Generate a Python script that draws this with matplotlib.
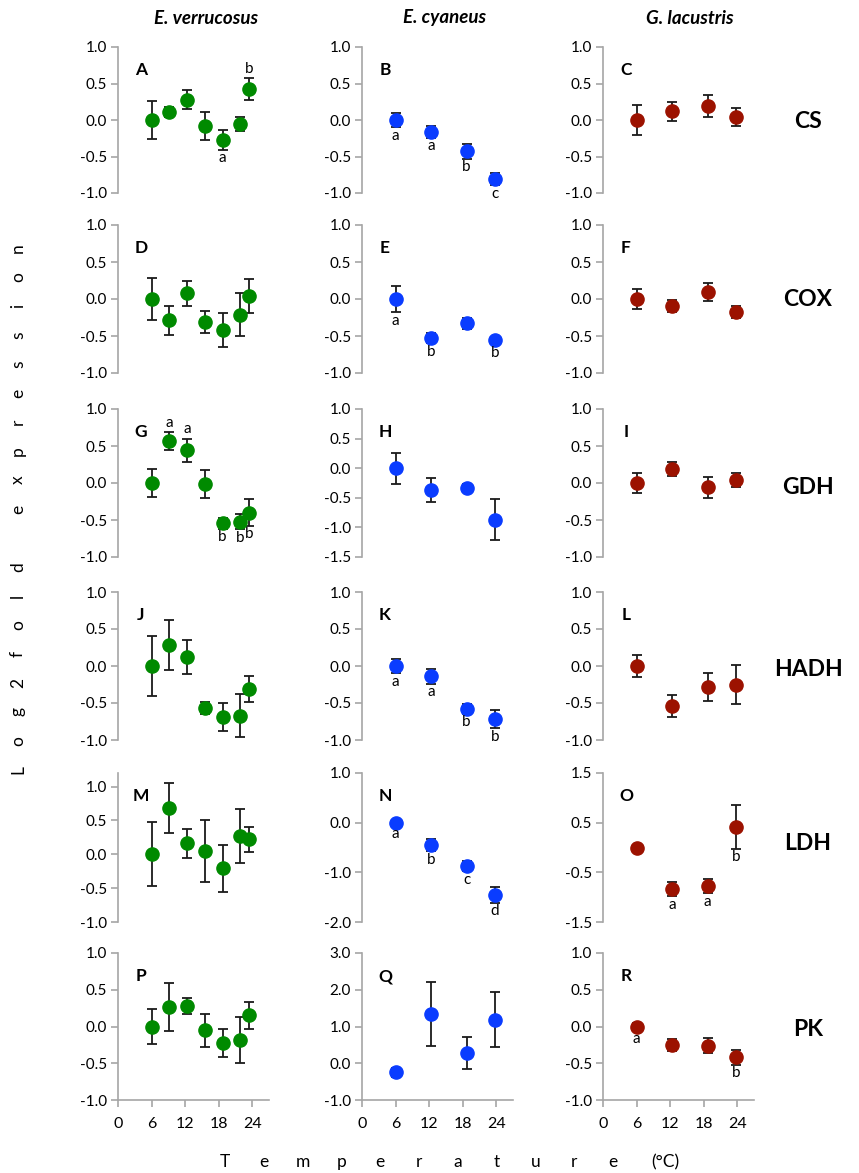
import matplotlib
matplotlib.use('Agg')
import matplotlib.pyplot as plt

plt.rcParams['font.family'] = ['Lato', 'DejaVu Sans']
plt.rcParams['axes.unicode_minus'] = False

# acclimation temperatures (deg C)
temp_ev = [6, 9.2, 12.4, 15.5, 18.7, 21.8, 23.5]
temp_ec = [6, 12.4, 18.7, 23.8]
temp_gl = [6, 12.4, 18.7, 23.8]

species = ['E. verrucosus', 'E. cyaneus', 'G. lacustris']
genes = ['CS', 'COX', 'GDH', 'HADH', 'LDH', 'PK']
x_ticks = [0, 6, 12, 18, 24]

# CS
cs_ev = [0.0, 0.105, 0.28, -0.08, -0.27, -0.06, 0.42]
cs_ev_err = [0.26, 0.07, 0.125, 0.195, 0.135, 0.095, 0.15]
cs_ev_sig = ['', '', '', '', 'a', '', 'b']
cs_ec = [0.0, -0.16, -0.43, -0.81]
cs_ec_err = [0.1, 0.08, 0.1, 0.085]
cs_ec_sig = ['a', 'a', 'b', 'c']
cs_gl = [0.0, 0.12, 0.19, 0.04]
cs_gl_err = [0.21, 0.13, 0.15, 0.12]

# COX
cox_ev = [0.0, -0.29, 0.08, -0.31, -0.42, -0.21, 0.04]
cox_ev_err = [0.28, 0.2, 0.17, 0.15, 0.225, 0.29, 0.23]
cox_ec = [0.0, -0.53, -0.33, -0.56]
cox_ec_err = [0.18, 0.07, 0.07, 0.05]
cox_ec_sig = ['a', 'b', '', 'b']
cox_gl = [0.0, -0.1, 0.09, -0.18]
cox_gl_err = [0.13, 0.08, 0.12, 0.08]

# GDH
gdh_ev = [0.0, 0.565, 0.44, -0.01, -0.545, -0.525, -0.40]
gdh_ev_err = [0.185, 0.12, 0.16, 0.19, 0.07, 0.1, 0.18]
gdh_ev_sig = ['', 'a', 'a', '', 'b', 'b', 'b']
gdh_ec = [0.0, -0.37, -0.33, -0.87]
gdh_ec_err = [0.26, 0.2, 0.07, 0.35]
gdh_gl = [0.0, 0.19, -0.06, 0.04]
gdh_gl_err = [0.13, 0.1, 0.14, 0.09]

# HADH
hadh_ev = [0.0, 0.28, 0.12, -0.57, -0.69, -0.67, -0.31]
hadh_ev_err = [0.4, 0.34, 0.225, 0.085, 0.195, 0.29, 0.18]
hadh_ec = [0.0, -0.14, -0.58, -0.72]
hadh_ec_err = [0.1, 0.1, 0.07, 0.12]
hadh_ec_sig = ['a', 'a', 'b', 'b']
hadh_gl = [0.0, -0.54, -0.28, -0.25]
hadh_gl_err = [0.15, 0.15, 0.19, 0.26]

# LDH
ldh_ev = [0.0, 0.685, 0.16, 0.045, -0.21, 0.27, 0.22]
ldh_ev_err = [0.47, 0.37, 0.21, 0.46, 0.34, 0.40, 0.18]
ldh_ec = [0.0, -0.45, -0.88, -1.45]
ldh_ec_err = [0.05, 0.125, 0.1, 0.16]
ldh_ec_sig = ['a', 'b', 'c', 'd']
ldh_gl = [0.0, -0.84, -0.78, 0.41]
ldh_gl_err = [0.05, 0.145, 0.14, 0.44]
ldh_gl_sig = ['', 'a', 'a', 'b']

# PK
pk_ev = [0.0, 0.265, 0.28, -0.05, -0.23, -0.18, 0.15]
pk_ev_err = [0.235, 0.33, 0.11, 0.225, 0.19, 0.31, 0.19]
pk_ec = [-0.245, 1.34, 0.28, 1.19]
pk_ec_err = [0.12, 0.87, 0.43, 0.745]
pk_gl = [0.0, -0.25, -0.26, -0.42]
pk_gl_err = [0.05, 0.08, 0.1, 0.1]
pk_gl_sig = ['a', '', '', 'b']

W, H = 859, 1173
GREY = '#a6a6a6'
colors = ['#008a00', '#0a3cff', '#9c1200']

# pixel layout
col_left = [118, 362, 603]
col_w = 151
row_top = [47, 225, 409, 592, 773, 953]
row_bot = [193, 373, 557, 740, 922, 1100]
title_x = [206, 445, 690]
gene_y = [121, 300, 487, 670, 843, 1030]

# (letter, row, col, x, y, err, sig, ylim, yticks)
panels = [
    ('A', 0, 0, temp_ev, cs_ev, cs_ev_err, cs_ev_sig, (-1, 1), [-1, -0.5, 0, 0.5, 1]),
    ('B', 0, 1, temp_ec, cs_ec, cs_ec_err, cs_ec_sig, (-1, 1), [-1, -0.5, 0, 0.5, 1]),
    ('C', 0, 2, temp_gl, cs_gl, cs_gl_err, None, (-1, 1), [-1, -0.5, 0, 0.5, 1]),
    ('D', 1, 0, temp_ev, cox_ev, cox_ev_err, None, (-1, 1), [-1, -0.5, 0, 0.5, 1]),
    ('E', 1, 1, temp_ec, cox_ec, cox_ec_err, cox_ec_sig, (-1, 1), [-1, -0.5, 0, 0.5, 1]),
    ('F', 1, 2, temp_gl, cox_gl, cox_gl_err, None, (-1, 1), [-1, -0.5, 0, 0.5, 1]),
    ('G', 2, 0, temp_ev, gdh_ev, gdh_ev_err, gdh_ev_sig, (-1, 1), [-1, -0.5, 0, 0.5, 1]),
    ('H', 2, 1, temp_ec, gdh_ec, gdh_ec_err, None, (-1.5, 1), [-1.5, -1, -0.5, 0, 0.5, 1]),
    ('I', 2, 2, temp_gl, gdh_gl, gdh_gl_err, None, (-1, 1), [-1, -0.5, 0, 0.5, 1]),
    ('J', 3, 0, temp_ev, hadh_ev, hadh_ev_err, None, (-1, 1), [-1, -0.5, 0, 0.5, 1]),
    ('K', 3, 1, temp_ec, hadh_ec, hadh_ec_err, hadh_ec_sig, (-1, 1), [-1, -0.5, 0, 0.5, 1]),
    ('L', 3, 2, temp_gl, hadh_gl, hadh_gl_err, None, (-1, 1), [-1, -0.5, 0, 0.5, 1]),
    ('M', 4, 0, temp_ev, ldh_ev, ldh_ev_err, None, (-1, 1.2), [-1, -0.5, 0, 0.5, 1]),
    ('N', 4, 1, temp_ec, ldh_ec, ldh_ec_err, ldh_ec_sig, (-2, 1), [-2, -1, 0, 1]),
    ('O', 4, 2, temp_gl, ldh_gl, ldh_gl_err, ldh_gl_sig, (-1.5, 1.5), [-1.5, -0.5, 0.5, 1.5]),
    ('P', 5, 0, temp_ev, pk_ev, pk_ev_err, None, (-1, 1), [-1, -0.5, 0, 0.5, 1]),
    ('Q', 5, 1, temp_ec, pk_ec, pk_ec_err, None, (-1, 3), [-1, 0, 1, 2, 3]),
    ('R', 5, 2, temp_gl, pk_gl, pk_gl_err, pk_gl_sig, (-1, 1), [-1, -0.5, 0, 0.5, 1]),
]
# significance letters drawn above the error bar instead of below
sig_above = {('A', 6), ('G', 1), ('G', 2)}


def fx(px):
    return px / W


def fy(py):
    return 1 - py / H


fig = plt.figure(figsize=(W / 100, H / 100), dpi=100)

for letter, r, c, x, y, err, sig, ylim, yticks in panels:
    ax = fig.add_axes([fx(col_left[c]), fy(row_bot[r]), col_w / W,
                       (row_bot[r] - row_top[r]) / H])
    ax.errorbar(x, y, yerr=err, fmt='o', ms=9.5, mfc=colors[c], mec=colors[c],
                ecolor='#1a1a1a', elinewidth=1.3, capsize=3.7, capthick=1.3)
    ax.set_xlim(0, 27)
    ax.set_ylim(*ylim)
    ax.set_yticks(yticks)
    ax.set_yticklabels(['%.1f' % t for t in yticks])
    for s in ['top', 'right']:
        ax.spines[s].set_visible(False)
    ax.spines['left'].set_color(GREY)
    ax.spines['left'].set_linewidth(1.2)
    ax.tick_params(axis='y', direction='out', length=5, width=1.2, color=GREY,
                   labelsize=11, pad=3)
    if r == 5:
        ax.spines['bottom'].set_color(GREY)
        ax.spines['bottom'].set_linewidth(1.2)
        ax.set_xticks(x_ticks)
        ax.tick_params(axis='x', direction='out', length=5, width=1.2, color=GREY,
                       labelsize=11.5, pad=7)
    else:
        ax.spines['bottom'].set_visible(False)
        ax.set_xticks([])
    if sig:
        for i, s in enumerate(sig):
            if not s:
                continue
            if (letter, i) in sig_above:
                ax.annotate(s, (x[i], y[i] + err[i]), xytext=(0, 2),
                            textcoords='offset points', ha='center', va='bottom',
                            fontsize=11)
            else:
                ax.annotate(s, (x[i], y[i] - err[i]), xytext=(0, -1),
                            textcoords='offset points', ha='center', va='top',
                            fontsize=11)
    fig.text(fx(col_left[c] + 23), fy(row_top[r] + 23), letter, fontsize=12.5,
             fontweight='bold', ha='center', va='center')

for c, name in enumerate(species):
    fig.text(fx(title_x[c]), fy(18), name, fontsize=13.5, fontweight='bold',
             fontstyle='italic', ha='center', va='center')

for r, g in enumerate(genes):
    fig.text(fx(808), fy(gene_y[r]), g, fontsize=16.5, fontweight='bold',
             ha='center', va='center')

# spaced-out axis titles
ylab = 'Log2fold expression'
for i, ch in enumerate(ylab):
    fig.text(fx(18), fy(770 - i * 29), ch, fontsize=12.5, rotation=90,
             ha='center', va='center')

xlab = list('Temperature') + ['(°C)']
for i, ch in enumerate(xlab):
    px = 225 + i * 38.8 if i < 11 else 665
    fig.text(fx(px), fy(1162), ch, fontsize=12.5, ha='center', va='center')

fig.savefig('out.png', dpi=100)
